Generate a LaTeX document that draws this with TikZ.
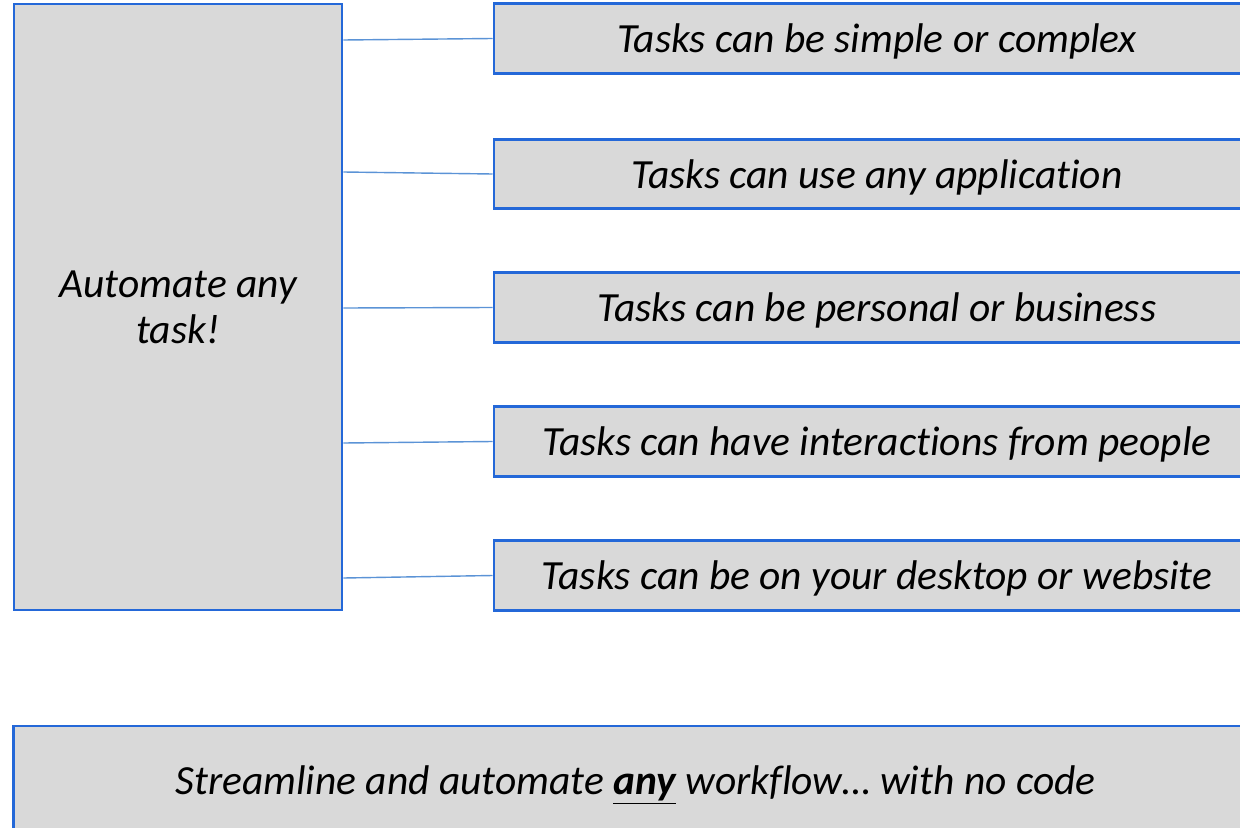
\documentclass[tikz,border=0pt]{standalone}
\usepackage{fontspec}
\setmainfont{Carlito}[Ligatures=NoCommon]
\usetikzlibrary{positioning}

\definecolor{boxgray}{HTML}{D9D9D9}
\definecolor{boxblue}{HTML}{2468D8}
\definecolor{linkblue}{HTML}{5B93D6}

\begin{document}
\begin{tikzpicture}[x=0.025cm,y=-0.025cm,
    box/.style={draw=boxblue,line width=2pt,fill=boxgray,inner sep=0pt,text depth=0pt,
        font=\fontsize{29.5}{33}\selectfont\itshape,align=center},
    task/.style={box,minimum width=19.15cm,minimum height=1.74cm},
    link/.style={draw=linkblue,line width=1pt}]
    \useasboundingbox (0,0) rectangle (1240,827);
    \clip (0,0) rectangle (1240,827);

    \node[box,minimum width=8.2cm,minimum height=15.15cm] (auto) at (178,307) {Automate any\\task!};

    \node[task] (t1) at (877,38.5) {Tasks can be simple or complex};
    \node[task] (t2) at (877,174) {Tasks can use any application};
    \node[task] (t3) at (877,307.5) {Tasks can be personal or business};
    \node[task] (t4) at (877,441.5) {Tasks can have interactions from people};
    \node[task] (t5) at (877,575.5) {Tasks can be on your desktop or website};

    % links from the left box
    \foreach \t/\y in {t1/40,t2/172,t3/308,t4/443,t5/578}
        \draw[link] (auto.east |- 0,\y) -- (\t.west);

    \node[box,minimum width=31.1cm,minimum height=2.7cm] (flow) at (635.5,780) {Streamline and automate \underline{\textbf{any}} workflow\dots\ with no code};
\end{tikzpicture}
\end{document}
